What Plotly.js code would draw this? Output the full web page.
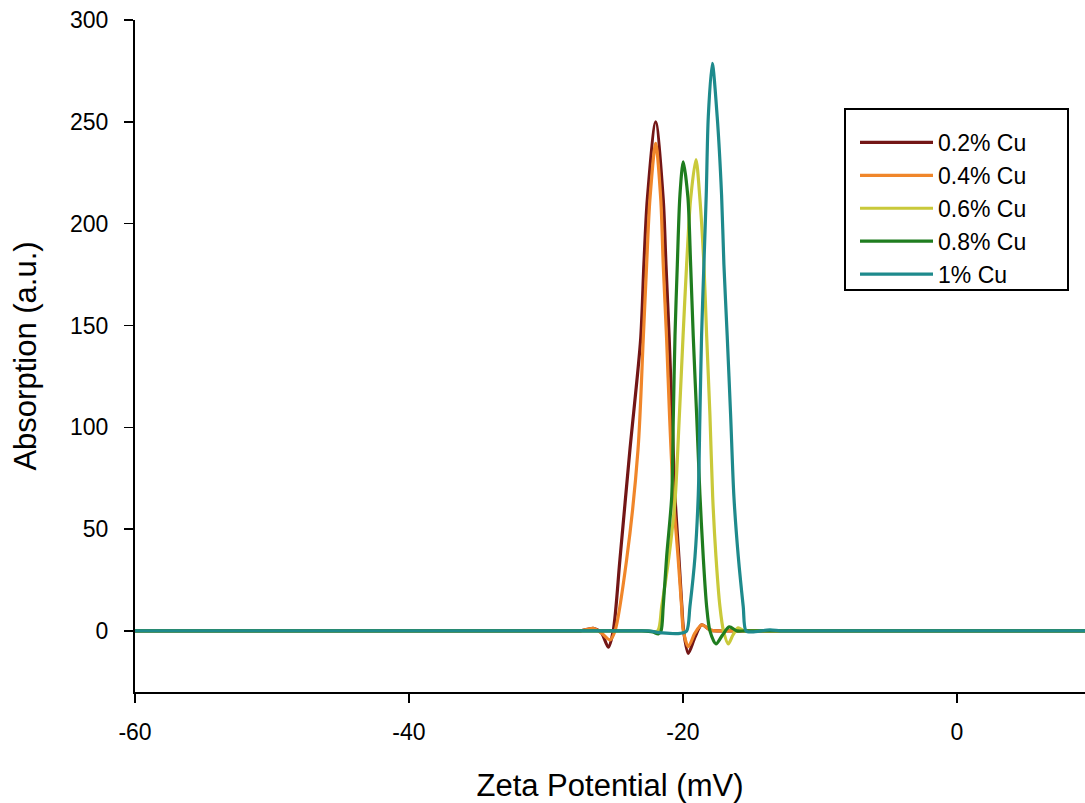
<!DOCTYPE html>
<html>
<head>
<meta charset="utf-8">
<script src="https://cdn.plot.ly/plotly-3.0.1.min.js"></script>
<style>html,body{margin:0;padding:0;background:#fff;}#chart{width:1085px;height:803px;}</style>
</head>
<body>
<div id="chart"></div>
<script>
var seriesNames = ["0.2% Cu", "0.4% Cu", "0.6% Cu", "0.8% Cu", "1% Cu"];
var seriesColors = ["#731616", "#f0862a", "#c9c93a", "#1f7d1f", "#1e8a8c"];

var x_02 = [-60, -50, -40, -30, -29, -28, -27.5, -26.55, -25.95, -25.45, -25.09, -24.60, -23.87, -23.09, -22.85, -22.60, -21.99, -21.44, -21.24, -21.0, -20.8, -20.58, -20.3, -20.08, -19.95, -19.61, -19.12, -18.63, -18.02, -17.44, -16.5, -15.5, -10, 0, 10];
var y_02 = [0, 0, 0, 0, 0, 0, 0, 1.3, -1, -8, 0, 35, 89, 143, 180, 212, 250, 212, 180, 143, 106, 66, 36.5, 12, 0, -11, -3, 3, 0.5, 0, 0, 0, 0, 0, 0];

var x_04 = [-60, -50, -40, -30, -29, -28, -27.5, -26.55, -25.95, -25.33, -24.96, -24.11, -23.28, -22.90, -22.65, -22.41, -21.99, -21.62, -21.44, -21.19, -20.98, -20.7, -20.36, -20.1, -19.97, -19.61, -19.12, -18.63, -18.02, -17.44, -16.5, -15.5, -10, 0, 10];
var y_04 = [0, 0, 0, 0, 0, 0, 0, 1.3, -1, -4.4, 0, 35, 89, 143, 180, 212, 239.4, 212, 180, 143, 106, 66, 36.5, 12, 0, -7.7, -1, 3, 0.5, 0, 0, 0, 0, 0, 0];

var x_06 = [-60, -50, -40, -30, -25, -24, -23.2, -22.6, -21.85, -21.55, -21.02, -20.58, -20.26, -19.99, -19.73, -19.44, -19.05, -18.76, -18.47, -18.27, -18.03, -17.83, -17.59, -17.30, -17.04, -16.69, -16.35, -15.97, -15.55, -15, -14, -13, -10, 0, 10];
var y_06 = [0, 0, 0, 0, 0, 0, 0, 0, 0, 12, 36.5, 64, 106, 145, 180, 212, 231.5, 212, 180, 145, 106, 66, 36.5, 12, 0, -6.4, -2, 1.5, 0, 0, 0, 0, 0, 0, 0];

var x_08 = [-60, -50, -40, -30, -25, -24, -23, -22.2, -21.8, -21.6, -21.44, -21.19, -20.82, -20.70, -20.58, -20.41, -20.22, -19.98, -19.64, -19.44, -19.25, -19.0, -18.76, -18.52, -18.27, -18.03, -17.59, -17.11, -16.62, -16.06, -15.5, -14.5, -10, 0, 10];
var y_08 = [0, 0, 0, 0, 0, 0, 0, -0.5, -1.5, 0, 12, 36.5, 66, 106, 145, 180, 214, 230.4, 213, 180, 145, 106, 67, 36.5, 12, 0, -6.4, -2, 2, 0, 0, 0, 0, 0, 0];

var x_1 = [-60, -50, -40, -30, -25, -24, -23, -22.5, -21.5, -20.2, -19.73, -19.49, -19.12, -18.88, -18.76, -18.64, -18.47, -18.30, -18.15, -17.86, -17.50, -17.18, -17.01, -16.77, -16.52, -16.28, -15.96, -15.60, -15.40, -14.96, -13.65, -12.9, -12, -11, -10, 0, 10];
var y_1 = [0, 0, 0, 0, 0, 0, 0, 0, -1, -1.2, 0, 12, 36.5, 67, 106, 145, 180, 214, 252.5, 278.7, 252.5, 214, 180, 145, 106, 66, 36.5, 12, 0, -0.5, 0.5, 0, 0, 0, 0, 0, 0];

var xTicks = [-60, -40, -20, 0];
var yTicks = [0, 50, 100, 150, 200, 250, 300];

var xs = [x_02, x_04, x_06, x_08, x_1];
var ys = [y_02, y_04, y_06, y_08, y_1];

var traces = xs.map(function (x, i) {
  return {
    x: x, y: ys[i], type: "scatter", mode: "lines", name: seriesNames[i],
    line: {color: seriesColors[i], width: 3.2, shape: "spline", smoothing: 0.8}
  };
});

// plot area in px: left 135, right 1085, top 20, bottom 692
function px2paperX(px) { return (px - 135) / 950; }
function px2paperY(py) { return 1 - (py - 20) / 672; }

var fontFam = "Liberation Sans, Arial, sans-serif";
var layout = {
  width: 1085, height: 803,
  margin: {l: 135, r: 0, t: 20, b: 111},
  paper_bgcolor: "#fff", plot_bgcolor: "#fff",
  showlegend: true,
  font: {family: fontFam, color: "#000"},
  xaxis: {
    range: [-60, 9.35], tickvals: xTicks, ticktext: xTicks.map(String),
    showgrid: false, zeroline: false, showline: true, linecolor: "#000", linewidth: 2,
    ticks: "outside", ticklen: 9, tickwidth: 1.5, tickcolor: "#000",
    tickfont: {family: fontFam, size: 23, color: "#000"},
    ticklabelstandoff: 9,
    title: {text: "Zeta Potential (mV)", font: {family: fontFam, size: 31, color: "#000"}, standoff: 37}
  },
  yaxis: {
    range: [-30, 300], tickvals: yTicks, ticktext: yTicks.map(String),
    showgrid: false, zeroline: false, showline: true, linecolor: "#000", linewidth: 2,
    ticks: "outside", ticklen: 9, tickwidth: 1.5, tickcolor: "#000",
    tickfont: {family: fontFam, size: 23, color: "#000"},
    ticklabelstandoff: 11,
    title: {text: "Absorption (a.u.)", font: {family: fontFam, size: 31, color: "#000"}, standoff: 24}
  },
  shapes: [{
    type: "rect", xref: "paper", yref: "paper", layer: "below",
    x0: px2paperX(845), x1: px2paperX(1068), y0: px2paperY(290), y1: px2paperY(109),
    line: {color: "#000", width: 2}, fillcolor: "rgba(0,0,0,0)"
  }],
  legend: {
    x: px2paperX(855), y: px2paperY(121), xanchor: "left", yanchor: "top",
    bgcolor: "rgba(0,0,0,0)", borderwidth: 0,
    font: {family: fontFam, size: 23, color: "#000"},
    itemwidth: 73
  }
};

Plotly.newPlot("chart", traces, layout, {displayModeBar: false, staticPlot: true});
</script>
</body>
</html>
